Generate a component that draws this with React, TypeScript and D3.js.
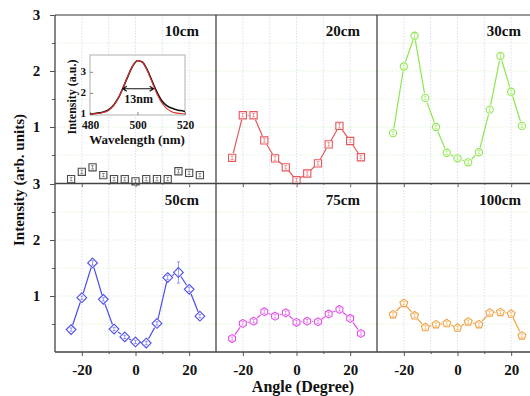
import React, { useRef, useEffect } from 'react';
import * as d3 from 'd3';

// angle positions shared by all six panels
const angles = [-24, -20, -16, -12, -8, -4, 0, 4, 8, 12, 16, 20, 24];

const int10 = [0.07, 0.2, 0.28, 0.14, 0.07, 0.07, 0.03, 0.07, 0.07, 0.07, 0.21, 0.18, 0.14];
const int20 = [0.45, 1.21, 1.21, 0.76, 0.44, 0.28, 0.05, 0.17, 0.35, 0.69, 1.02, 0.75, 0.46];
const int30 = [0.89, 2.08, 2.63, 1.52, 1.0, 0.54, 0.44, 0.37, 0.55, 1.31, 2.27, 1.63, 1.02];
const int50 = [0.4, 0.97, 1.59, 0.94, 0.41, 0.27, 0.18, 0.16, 0.51, 1.33, 1.42, 1.12, 0.64];
const int75 = [0.24, 0.51, 0.55, 0.72, 0.64, 0.7, 0.53, 0.55, 0.54, 0.68, 0.76, 0.6, 0.33];
const int100 = [0.67, 0.87, 0.65, 0.44, 0.49, 0.51, 0.43, 0.54, 0.49, 0.7, 0.71, 0.68, 0.29];

const err10 = [0.03, 0.03, 0.03, 0.03, 0.03, 0.03, 0.03, 0.03, 0.03, 0.03, 0.03, 0.03, 0.03];
const err20 = [0.03, 0.03, 0.03, 0.03, 0.04, 0.03, 0.03, 0.03, 0.03, 0.03, 0.04, 0.03, 0.03];
const err30 = [0.03, 0.03, 0.04, 0.03, 0.03, 0.03, 0.03, 0.03, 0.03, 0.03, 0.04, 0.03, 0.03];
const err50 = [0.03, 0.03, 0.04, 0.03, 0.03, 0.03, 0.03, 0.03, 0.03, 0.04, 0.19, 0.04, 0.03];
const err75 = [0.03, 0.03, 0.03, 0.03, 0.03, 0.03, 0.03, 0.03, 0.03, 0.03, 0.03, 0.03, 0.03];
const err100 = [0.03, 0.03, 0.03, 0.03, 0.03, 0.03, 0.03, 0.03, 0.03, 0.03, 0.03, 0.03, 0.03];

const panelLabels = ['10cm', '20cm', '30cm', '50cm', '75cm', '100cm'];
const yTicks = [1, 2, 3];
const xTicks = [-20, 0, 20];

// inset spectrum (emission peak)
const wavelengths = [480, 482, 484, 486, 488, 490, 492, 494, 496, 498, 500, 502, 504, 506, 508, 510, 512, 514, 516, 518, 520];
const specMeasured = [1.0, 1.02, 1.05, 1.1, 1.21, 1.42, 1.77, 2.26, 2.8, 3.28, 3.53, 3.47, 3.12, 2.6, 2.08, 1.66, 1.42, 1.29, 1.21, 1.16, 1.12];
const specFit = [1.0, 1.01, 1.03, 1.08, 1.19, 1.41, 1.77, 2.27, 2.82, 3.3, 3.54, 3.46, 3.09, 2.55, 2.01, 1.57, 1.29, 1.13, 1.05, 1.02, 1.0];
const fwhmEnds = [493.8, 506.8];
const fwhmLevel = 2.2;

const serif = '"Liberation Serif", "Times New Roman", serif';

function shapePath(shape, r) {
  if (shape === 'circle') {
    return d3.symbol(d3.symbolCircle, Math.PI * r * r)();
  }
  let n = 4, rot = 0, rr = r;
  if (shape === 'square') { n = 4; rot = Math.PI / 4; rr = r * Math.SQRT2; }
  if (shape === 'diamond') { n = 4; rot = 0; rr = r * 1.35; }
  if (shape === 'hexagon') { n = 6; rot = 0; rr = r * 1.1; }
  if (shape === 'pentagon') { n = 5; rot = 0; rr = r * 1.15; }
  const pts = d3.range(n).map((i) => {
    const a = rot + (i * 2 * Math.PI) / n;
    return [rr * Math.sin(a), -rr * Math.cos(a)];
  });
  return 'M' + pts.map((p) => p.join(',')).join('L') + 'Z';
}

const App = () => {
  const svgRef = useRef(null);

  useEffect(() => {
    const svg = d3.select(svgRef.current);
    svg.selectAll('*').remove();

    const colX = [[55, 216], [216, 377], [377, 538]];
    const rowY = [[15, 183], [184, 352]];

    const panels = [
      { values: int10, errs: err10, color: '#4a4a4a', shape: 'square', line: false },
      { values: int20, errs: err20, color: '#e4585c', shape: 'square', line: true },
      { values: int30, errs: err30, color: '#8ee64e', shape: 'circle', line: true },
      { values: int50, errs: err50, color: '#4c4cec', shape: 'diamond', line: true },
      { values: int75, errs: err75, color: '#e050e8', shape: 'hexagon', line: true },
      { values: int100, errs: err100, color: '#f0a040', shape: 'pentagon', line: true },
    ];

    const r = 3.6;

    panels.forEach((p, i) => {
      const row = Math.floor(i / 3);
      const col = i % 3;
      const x = d3.scaleLinear().domain([-30, 30]).range(colX[col]);
      const y = d3.scaleLinear().domain([0, 3]).range([rowY[row][1], rowY[row][0]]);
      const g = svg.append('g');

      // grid
      g.selectAll('.hgrid')
        .data(d3.range(0.5, 3, 0.5))
        .enter().append('line')
        .attr('x1', colX[col][0]).attr('x2', colX[col][1])
        .attr('y1', (d) => y(d)).attr('y2', (d) => y(d))
        .attr('stroke', '#d6f2c8').attr('stroke-width', 0.8).attr('stroke-dasharray', '1.5,1.5');
      g.selectAll('.vgrid')
        .data([-20, -10, 0, 10, 20])
        .enter().append('line')
        .attr('x1', (d) => x(d)).attr('x2', (d) => x(d))
        .attr('y1', rowY[row][0]).attr('y2', rowY[row][1])
        .attr('stroke', '#d4d4f6').attr('stroke-width', 0.8).attr('stroke-dasharray', '1.5,1.5');

      // bottom axis ticks
      const bottom = g.append('g')
        .attr('transform', `translate(0,${rowY[row][1]})`)
        .call(d3.axisBottom(x).tickValues(xTicks).tickSize(4).tickSizeOuter(0)
          .tickFormat(row === 1 ? ((d) => String(d)) : () => ''));
      bottom.select('.domain').remove();
      bottom.selectAll('line').attr('stroke', '#555');
      bottom.selectAll('text')
        .attr('font-family', serif).attr('font-weight', 'bold').attr('font-size', 15)
        .attr('fill', '#111').attr('dy', '1.05em');
      g.append('g')
        .attr('transform', `translate(0,${rowY[row][1]})`)
        .call(d3.axisBottom(x).tickValues([-10, 10]).tickSize(2).tickFormat(() => ''))
        .call((a) => a.select('.domain').remove())
        .selectAll('line').attr('stroke', '#555');

      if (col === 0) {
        const left = g.append('g')
          .attr('transform', `translate(${colX[0][0]},0)`)
          .call(d3.axisLeft(y).tickValues(yTicks).tickSize(5).tickSizeOuter(0).tickFormat((d) => String(d)));
        left.select('.domain').remove();
        left.selectAll('line').attr('stroke', '#555');
        left.selectAll('text')
          .attr('font-family', serif).attr('font-weight', 'bold').attr('font-size', 15)
          .attr('fill', '#111').attr('dx', '-0.45em');
        g.append('g')
          .attr('transform', `translate(${colX[0][0]},0)`)
          .call(d3.axisLeft(y).tickValues([0.5, 1.5, 2.5]).tickSize(3).tickFormat(() => ''))
          .call((a) => a.select('.domain').remove())
          .selectAll('line').attr('stroke', '#555');
      }

      // connecting line with small gaps at the symbols
      if (p.line) {
        const pts = angles.map((a, k) => [x(a), y(p.values[k])]);
        const gap = r + 1.2;
        for (let k = 0; k < pts.length - 1; k++) {
          const [x1, y1] = pts[k];
          const [x2, y2] = pts[k + 1];
          const len = Math.hypot(x2 - x1, y2 - y1);
          if (len <= 2 * gap) continue;
          const ux = (x2 - x1) / len, uy = (y2 - y1) / len;
          g.append('line')
            .attr('x1', x1 + ux * gap).attr('y1', y1 + uy * gap)
            .attr('x2', x2 - ux * gap).attr('y2', y2 - uy * gap)
            .attr('stroke', p.color).attr('stroke-width', 1.2);
        }
      }

      // symbols
      g.selectAll('.sym')
        .data(angles)
        .enter().append('path')
        .attr('d', shapePath(p.shape, r))
        .attr('transform', (a, k) => `translate(${x(a)},${y(p.values[k])})`)
        .attr('fill', '#fff').attr('stroke', p.color).attr('stroke-width', 1.1);

      // error bars
      g.selectAll('.err')
        .data(angles)
        .enter().append('path')
        .attr('d', (a, k) => {
          const cx = x(a);
          const y1 = y(p.values[k] - p.errs[k]);
          const y2 = y(p.values[k] + p.errs[k]);
          return `M${cx},${y1}L${cx},${y2}M${cx - 1.5},${y1}L${cx + 1.5},${y1}M${cx - 1.5},${y2}L${cx + 1.5},${y2}`;
        })
        .attr('fill', 'none').attr('stroke', p.color).attr('stroke-width', 0.7).attr('opacity', 0.8);

      g.append('text')
        .attr('x', colX[col][1] - 17).attr('y', rowY[row][0] + 21)
        .attr('text-anchor', 'end')
        .attr('font-family', serif).attr('font-weight', 'bold').attr('font-size', 15)
        .attr('fill', '#111')
        .text(panelLabels[i]);
    });

    // frame lines
    const frame = svg.append('g').attr('stroke', '#444').attr('stroke-width', 1.3);
    frame.append('line').attr('x1', 55).attr('x2', 540).attr('y1', 15).attr('y2', 15).attr('stroke', '#777');
    frame.append('line').attr('x1', 55).attr('x2', 540).attr('y1', 183.5).attr('y2', 183.5);
    frame.append('line').attr('x1', 55).attr('x2', 540).attr('y1', 352).attr('y2', 352);
    [55, 216, 377].forEach((vx) => {
      frame.append('line').attr('x1', vx).attr('x2', vx).attr('y1', 15).attr('y2', 352);
    });

    // axis titles
    svg.append('text')
      .attr('transform', 'translate(24,180) rotate(-90)')
      .attr('text-anchor', 'middle')
      .attr('font-family', serif).attr('font-weight', 'bold').attr('font-size', 15)
      .attr('fill', '#111')
      .text('Intensity (arb. units)');
    svg.append('text')
      .attr('x', 303).attr('y', 392)
      .attr('text-anchor', 'middle')
      .attr('font-family', serif).attr('font-weight', 'bold').attr('font-size', 16)
      .attr('fill', '#111')
      .text('Angle (Degree)');

    // inset spectrum
    const ix = d3.scaleLinear().domain([480, 520]).range([90, 185]);
    const iy = d3.scaleLinear().domain([0.95, 3.8]).range([115, 55]);
    const inset = svg.append('g');
    inset.append('rect')
      .attr('x', 90).attr('y', 55).attr('width', 95).attr('height', 60)
      .attr('fill', '#fff').attr('stroke', '#b0b0b0').attr('stroke-width', 1);

    const ib = inset.append('g')
      .attr('transform', 'translate(0,115)')
      .call(d3.axisBottom(ix).tickValues([480, 500, 520]).tickSize(-3).tickSizeOuter(0).tickFormat((d) => String(d)));
    ib.select('.domain').remove();
    ib.selectAll('line').attr('stroke', '#888');
    ib.selectAll('text')
      .attr('font-family', serif).attr('font-weight', 'bold').attr('font-size', 11.5)
      .attr('fill', '#111').attr('dy', '0.95em');
    const il = inset.append('g')
      .attr('transform', 'translate(90,0)')
      .call(d3.axisLeft(iy).tickValues([1, 2, 3]).tickSize(-3).tickSizeOuter(0).tickFormat((d) => String(d)));
    il.select('.domain').remove();
    il.selectAll('line').attr('stroke', '#888');
    il.selectAll('text')
      .attr('font-family', serif).attr('font-weight', 'bold').attr('font-size', 11)
      .attr('fill', '#111').attr('dx', '-0.1em').attr('dy', '0.2em');

    const specLine = d3.line()
      .x((d, k) => ix(wavelengths[k]))
      .y((d) => iy(d))
      .curve(d3.curveMonotoneX);
    inset.append('path').attr('d', specLine(specMeasured))
      .attr('fill', 'none').attr('stroke', '#111').attr('stroke-width', 1.6);
    inset.append('path').attr('d', specLine(specFit))
      .attr('fill', 'none').attr('stroke', '#e0302c').attr('stroke-width', 1.1);

    // FWHM arrow
    const ax1 = ix(fwhmEnds[0]), ax2 = ix(fwhmEnds[1]), ay = iy(fwhmLevel);
    inset.append('path')
      .attr('d', `M${ax1},${ay}L${ax2},${ay}M${ax1 + 4},${ay - 2.5}L${ax1},${ay}L${ax1 + 4},${ay + 2.5}M${ax2 - 4},${ay - 2.5}L${ax2},${ay}L${ax2 - 4},${ay + 2.5}`)
      .attr('fill', 'none').attr('stroke', '#111').attr('stroke-width', 1.1);
    inset.append('text')
      .attr('x', ix(500.5)).attr('y', ay + 14)
      .attr('text-anchor', 'middle')
      .attr('font-family', serif).attr('font-weight', 'bold').attr('font-size', 12)
      .attr('fill', '#111')
      .text('13nm');

    inset.append('text')
      .attr('x', 137).attr('y', 144)
      .attr('text-anchor', 'middle')
      .attr('font-family', serif).attr('font-weight', 'bold').attr('font-size', 13)
      .attr('fill', '#111')
      .text('Wavelength (nm)');
    inset.append('text')
      .attr('transform', 'translate(76,97) rotate(-90)')
      .attr('text-anchor', 'middle')
      .attr('font-family', serif).attr('font-weight', 'bold').attr('font-size', 12)
      .attr('fill', '#111')
      .text('Intensity (a.u.)');
  }, []);

  return (
    <svg
      ref={svgRef}
      width={530}
      height={396}
      style={{ position: 'absolute', left: 0, top: 0, background: '#fff' }}
    ></svg>
  );
};

export default App;
